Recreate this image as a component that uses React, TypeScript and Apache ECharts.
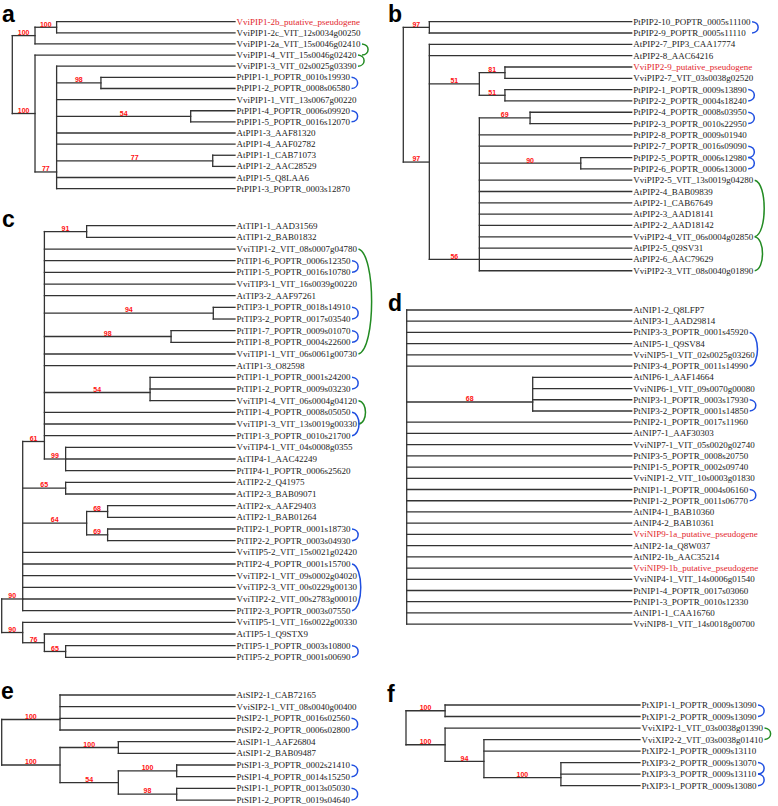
import React, { useEffect, useRef } from 'react';
import * as echarts from 'echarts';

type Tree = { d: number; b?: string; y?: number; k: (Tree | string)[] };

// ---------------- DATA ----------------
// d = node depth (root 0 .. tips 100), b = bootstrap, y = row where the node attaches (if not centred)
const treeA: Tree = { d: 0, k: [
  { d: 10.2, b: '100', k: [
    { d: 19.9, b: '100', k: ['VviPIP1-2b_putative_pseudogene', 'VviPIP1-2c_VIT_12s0034g00250'] },
    'VviPIP1-2a_VIT_15s0046g02410'] },
  { d: 10.2, b: '100', k: [
    'VviPIP1-4_VIT_15s0046g02420',
    { d: 19.9, b: '77', y: 13.5, k: [
      'VviPIP1-3_VIT_02s0025g03390',
      { d: 39.8, b: '98', k: ['PtPIP1-1_POPTR_0010s19930', 'PtPIP1-2_POPTR_0008s06580'] },
      'VviPIP1-1_VIT_13s0067g00220',
      { d: 80.1, b: '54', k: ['PtPIP1-4_POPTR_0006s09920', 'PtPIP1-5_POPTR_0016s12070'] },
      'AtPIP1-3_AAF81320', 'AtPIP1-4_AAF02782',
      { d: 90.0, b: '77', k: ['AtPIP1-1_CAB71073', 'AtPIP1-2_AAC28529'] },
      'AtPIP1-5_Q8LAA6', 'PtPIP1-3_POPTR_0003s12870'] }] }] };

const treeB: Tree = { d: 0, k: [
  { d: 11.4, b: '97', k: ['PtPIP2-10_POPTR_0005s11100', 'PtPIP2-9_POPTR_0005s11110'] },
  { d: 11.4, b: '97', y: 12.4, k: [
    'AtPIP2-7_PIP3_CAA17774', 'AtPIP2-8_AAC64216',
    { d: 33.3, b: '51', k: [
      { d: 44.5, b: '81', k: ['VviPIP2-9_putative_pseudogene', 'VviPIP2-7_VIT_03s0038g02520'] },
      { d: 44.5, b: '51', k: ['PtPIP2-1_POPTR_0009s13890', 'PtPIP2-2_POPTR_0004s18240'] }] },
    { d: 33.3, b: '56', y: 21, k: [
      { d: 55.5, b: '69', k: ['PtPIP2-4_POPTR_0008s03950', 'PtPIP2-3_POPTR_0010s22950'] },
      'PtPIP2-8_POPTR_0009s01940', 'PtPIP2-7_POPTR_0016s09090',
      { d: 77.7, b: '90', k: ['PtPIP2-5_POPTR_0006s12980', 'PtPIP2-6_POPTR_0006s13000'] },
      'VviPIP2-5_VIT_13s0019g04280', 'AtPIP2-4_BAB09839', 'AtPIP2-1_CAB67649', 'AtPIP2-3_AAD18141',
      'AtPIP2-2_AAD18142', 'VviPIP2-4_VIT_06s0004g02850', 'AtPIP2-5_Q9SV31', 'AtPIP2-6_AAC79629',
      'VviPIP2-3_VIT_08s0040g01890'] }] }] };

const treeC: Tree = { d: 0, k: [
  { d: 9.0, b: '90', y: 32, k: [
    { d: 18.3, b: '61', y: 18.5, k: [
      { d: 36.4, b: '91', k: ['AtTIP1-1_AAD31569', 'AtTIP1-2_BAB01832'] },
      'VviTIP1-2_VIT_08s0007g04780', 'PtTIP1-6_POPTR_0006s12350', 'PtTIP1-5_POPTR_0016s10780',
      'VviTIP3-1_VIT_16s0039g00220', 'AtTIP3-2_AAF97261',
      { d: 90.7, b: '94', k: ['PtTIP3-1_POPTR_0018s14910', 'PtTIP3-2_POPTR_0017s03540'] },
      { d: 72.6, b: '98', k: ['PtTIP1-7_POPTR_0009s01070', 'PtTIP1-8_POPTR_0004s22600'] },
      'VviTIP1-1_VIT_06s0061g00730', 'AtTIP1-3_O82598',
      { d: 63.6, b: '54', y: 14.3, k: ['PtTIP1-1_POPTR_0001s24200', 'PtTIP1-2_POPTR_0009s03230', 'VviTIP1-4_VIT_06s0004g04120'] },
      'PtTIP1-4_POPTR_0008s05050', 'VviTIP1-3_VIT_13s0019g00330', 'PtTIP1-3_POPTR_0010s21700',
      { d: 27.4, b: '99', k: ['VviTIP4-1_VIT_04s0008g0355', 'AtTIP4-1_AAC42249', 'PtTIP4-1_POPTR_0006s25620'] }] },
    { d: 27.4, b: '65', k: ['AtTIP2-2_Q41975', 'AtTIP2-3_BAB09071'] },
    { d: 36.4, b: '64', k: [
      { d: 45.4, b: '68', k: ['AtTIP2-x_AAF29403', 'AtTIP2-1_BAB01264'] },
      { d: 45.4, b: '69', k: ['PtTIP2-1_POPTR_0001s18730', 'PtTIP2-2_POPTR_0003s04930'] }] },
    'VviTIP5-2_VIT_15s0021g02420', 'PtTIP2-4_POPTR_0001s15700', 'VviTIP2-1_VIT_09s0002g04020',
    'VviTIP2-3_VIT_00s0229g00130', 'VviTIP2-2_VIT_00s2783g00010', 'PtTIP2-3_POPTR_0003s07550'] },
  { d: 9.0, b: '90', k: [
    'VviTIP5-1_VIT_16s0022g00330',
    { d: 18.3, b: '76', k: ['AtTIP5-1_Q9STX9',
      { d: 27.4, b: '65', k: ['PtTIP5-1_POPTR_0003s10800', 'PtTIP5-2_POPTR_0001s00690'] }] }] }] };

const treeD: Tree = { d: 0, k: [
  'AtNIP1-2_Q8LFP7', 'AtNIP3-1_AAD29814', 'PtNIP3-3_POPTR_0001s45920', 'AtNIP5-1_Q9SV84',
  'VviNIP5-1_VIT_02s0025g03260', 'PtNIP3-4_POPTR_0011s14990',
  { d: 56.0, b: '68', y: 8.2, k: ['AtNIP6-1_AAF14664', 'VviNIP6-1_VIT_09s0070g00080', 'PtNIP3-1_POPTR_0003s17930', 'PtNIP3-2_POPTR_0001s14850'] },
  'PtNIP2-1_POPTR_0017s11960', 'AtNIP7-1_AAF30303', 'VviNIP7-1_VIT_05s0020g02740', 'PtNIP3-5_POPTR_0008s20750',
  'PtNIP1-5_POPTR_0002s09740', 'VviNIP1-2_VIT_10s0003g01830', 'PtNIP1-1_POPTR_0004s06160', 'PtNIP1-2_POPTR_0011s06770',
  'AtNIP4-1_BAB10360', 'AtNIP4-2_BAB10361', 'VviNIP9-1a_putative_pseudogene', 'AtNIP2-1a_Q8W037',
  'AtNIP2-1b_AAC35214', 'VviNIP9-1b_putative_pseudogene', 'VviNIP4-1_VIT_14s0006g01540', 'PtNIP1-4_POPTR_0017s03060',
  'PtNIP1-3_POPTR_0010s12330', 'AtNIP1-1_CAA16760', 'VviNIP8-1_VIT_14s0018g00700'] };

const treeE: Tree = { d: 0, k: [
  { d: 25, b: '100', y: 2.1, k: ['AtSIP2-1_CAB72165', 'VviSIP2-1_VIT_08s0040g00400', 'PtSIP2-1_POPTR_0016s02560', 'PtSIP2-2_POPTR_0006s02800'] },
  { d: 25, b: '100', k: [
    { d: 50, b: '100', k: ['AtSIP1-1_AAF26804', 'AtSIP1-2_BAB09487'] },
    { d: 50, b: '54', k: [
      { d: 75, b: '100', k: ['PtSIP1-3_POPTR_0002s21410', 'PtSIP1-4_POPTR_0014s15250'] },
      { d: 75, b: '98', k: ['PtSIP1-1_POPTR_0013s05030', 'PtSIP1-2_POPTR_0019s04640'] }] }] }] };

const treeF: Tree = { d: 0, k: [
  { d: 16.7, b: '100', k: ['PtXIP1-1_POPTR_0009s13090', 'PtXIP1-2_POPTR_0009s13090'] },
  { d: 16.7, b: '100', k: [
    'VviXIP2-1_VIT_03s0038g01390',
    { d: 33.3, b: '94', y: 4.9, k: ['VviXIP2-2_VIT_03s0038g01410', 'PtXIP2-1_POPTR_0009s13110',
      { d: 66.2, b: '100', y: 6.3, k: ['PtXIP3-2_POPTR_0009s13070', 'PtXIP3-3_POPTR_0009s13110', 'PtXIP3-1_POPTR_0009s13080'] }] }] }] };

// paralogue pairs: [first row, last row, species]
const bracketsA: [number, number, string][] = [[5, 6, 'Pt'], [8, 9, 'Pt'], [2, 3, 'Vvi'], [3, 4, 'Vvi']];
const bracketsB: [number, number, string][] = [[0, 1, 'Pt'], [6, 7, 'Pt'], [8, 9, 'Pt'], [11, 12, 'Pt'], [12, 13, 'Pt'], [14, 19, 'Vvi'], [19, 22, 'Vvi']];
const bracketsC: [number, number, string][] = [[2, 11, 'Vvi'], [3, 4, 'Pt'], [7, 8, 'Pt'], [9, 10, 'Pt'], [13, 14, 'Pt'], [15, 17, 'Vvi'], [16, 18, 'Pt'], [26, 27, 'Pt'], [29, 33, 'Pt'], [36, 37, 'Pt']];
const bracketsD: [number, number, string][] = [[2, 5, 'Pt'], [8, 9, 'Pt'], [16, 17, 'Pt']];
const bracketsE: [number, number, string][] = [[2, 3, 'Pt'], [6, 7, 'Pt'], [8, 9, 'Pt']];
const bracketsF: [number, number, string][] = [[0, 1, 'Pt'], [2, 3, 'Vvi'], [5, 6, 'Pt'], [6, 7, 'Pt']];

const panelLetters = ['a', 'b', 'c', 'd', 'e', 'f'];

// ---------------- LAYOUT / STYLE ----------------
const PANELS = [
  { tree: treeA, br: bracketsA, left: 12.3, tip: 235, top: 21.7, dy: 11.13, lx: 2, ly: 20 },
  { tree: treeB, br: bracketsB, left: 403.3, tip: 631.7, top: 21.7, dy: 11.32, lx: 388, ly: 20 },
  { tree: treeC, br: bracketsC, left: 1.7, tip: 235, top: 225.7, dy: 11.665, lx: 2, ly: 225 },
  { tree: treeD, br: bracketsD, left: 406.7, tip: 631.7, top: 310, dy: 11.22, lx: 388, ly: 309 },
  { tree: treeE, br: bracketsE, left: 1.7, tip: 235, top: 695, dy: 11.67, lx: 1, ly: 697 },
  { tree: treeF, br: bracketsF, left: 406, tip: 640, top: 705, dy: 11.52, lx: 387, ly: 700 },
];

const LINE = '#333333';
const RED = '#ff1010';
const NAME_RED = '#e3262c';
const SERIF = '"Liberation Serif", "Times New Roman", serif';
const SANS = '"Liberation Sans", Arial, sans-serif';
const SP_COLOR: Record<string, string> = { Pt: '#1f4fe0', Vvi: '#228b22' };

type Item = { kind: string; x1: number; y1: number; x2: number; y2: number; text?: string; color?: string; r1?: number; r2?: number };

function layoutTree(tree: Tree) {
  const leaves: string[] = [];
  const items: Item[] = [];
  let row = 0;
  const walk = (node: Tree | string, parentD: number | null): number => {
    if (typeof node === 'string') {
      const r = row++;
      leaves.push(node);
      items.push({ kind: 'seg', x1: parentD as number, y1: r, x2: 100, y2: r });
      items.push({ kind: 'leaf', x1: 100, y1: r, x2: 100, y2: r, text: node });
      return r;
    }
    const ys = node.k.map((c) => walk(c, node.d));
    const y = node.y ?? (ys[0] + ys[ys.length - 1]) / 2;
    const lo = Math.min(...ys, y);
    const hi = Math.max(...ys, y);
    items.push({ kind: 'seg', x1: node.d, y1: lo, x2: node.d, y2: hi });
    if (parentD !== null) {
      items.push({ kind: 'seg', x1: parentD, y1: y, x2: node.d, y2: y });
      if (node.b) items.push({ kind: 'boot', x1: (parentD + node.d) / 2, y1: y, x2: (parentD + node.d) / 2, y2: y, text: node.b });
    }
    return y;
  };
  walk(tree, null);
  return { leaves, items };
}

let measureCtx: CanvasRenderingContext2D | null = null;
function textWidth(t: string): number {
  if (!measureCtx) measureCtx = document.createElement('canvas').getContext('2d');
  if (!measureCtx) return t.length * 4.5;
  measureCtx.font = '9px ' + SERIF;
  return measureCtx.measureText(t).width;
}

function buildOption() {
  const grid: any[] = [];
  const xAxis: any[] = [];
  const yAxis: any[] = [];
  const series: any[] = [];
  const graphicEls: any[] = [];

  PANELS.forEach((p, i) => {
    const { leaves, items } = layoutTree(p.tree);
    const n = leaves.length;
    p.br.forEach(([r1, r2, sp]) => items.push({ kind: 'br', x1: 100, y1: r1, x2: 100, y2: r2, r1, r2, color: SP_COLOR[sp] }));
    grid.push({ left: p.left, top: p.top, width: p.tip - p.left, height: (n - 1) * p.dy, containLabel: false });
    xAxis.push({ gridIndex: i, type: 'value', min: 0, max: 100, show: false });
    yAxis.push({ gridIndex: i, type: 'value', min: 0, max: n - 1, inverse: true, show: false });
    series.push({
      type: 'custom',
      coordinateSystem: 'cartesian2d',
      xAxisIndex: i,
      yAxisIndex: i,
      clip: false,
      silent: true,
      data: items.map((it) => [it.x1, it.y1, it.x2, it.y2]),
      encode: { x: [0, 2], y: [1, 3] },
      renderItem: (params: any, api: any) => {
        const it = items[params.dataIndex];
        if (it.kind === 'seg') {
          const a = api.coord([it.x1, it.y1]);
          const b = api.coord([it.x2, it.y2]);
          return { type: 'line', shape: { x1: a[0], y1: a[1], x2: b[0], y2: b[1] }, style: { stroke: LINE, lineWidth: 1.3, lineCap: 'square' } };
        }
        if (it.kind === 'leaf') {
          const a = api.coord([it.x1, it.y1]);
          const red = (it.text as string).indexOf('pseudogene') >= 0;
          return {
            type: 'text', x: a[0] + 1.5, y: a[1],
            style: { text: it.text, fill: red ? NAME_RED : '#1a1a1a', fontSize: 9, fontFamily: SERIF, textAlign: 'left', textVerticalAlign: 'middle' },
          };
        }
        if (it.kind === 'boot') {
          const a = api.coord([it.x1, it.y1]);
          return {
            type: 'text', x: a[0], y: a[1] + 0.3,
            style: { text: it.text, fill: RED, fontSize: 7, fontWeight: 'bold', fontFamily: SANS, textAlign: 'center', textVerticalAlign: 'bottom' },
          };
        }
        // bracket
        const a = api.coord([100, it.r1 as number]);
        const b = api.coord([100, it.r2 as number]);
        const w = Math.max(textWidth(leaves[it.r1 as number]), textWidth(leaves[it.r2 as number]));
        const x0 = a[0] + 1.5 + w + 1.5;
        const h = b[1] - a[1];
        const c = 7 + 0.1 * h;
        return {
          type: 'bezierCurve',
          shape: { x1: x0, y1: a[1], x2: x0, y2: b[1], cpx1: x0 + c, cpy1: a[1] + h * 0.05, cpx2: x0 + c, cpy2: b[1] - h * 0.05 },
          style: { stroke: it.color, lineWidth: 1.5, fill: 'none' },
        };
      },
    });
    graphicEls.push({
      type: 'text', x: p.lx, y: p.ly - 6.5,
      style: { text: panelLetters[i], fill: '#000', fontSize: 23, fontWeight: 'bold', fontFamily: SANS, textAlign: 'left', textVerticalAlign: 'middle' },
    });
  });

  return {
    animation: false,
    backgroundColor: '#ffffff',
    grid, xAxis, yAxis, series,
    graphic: { elements: graphicEls },
  };
}

export default function App() {
  const ref = useRef<HTMLDivElement>(null);
  useEffect(() => {
    if (!ref.current) return;
    const chart = echarts.init(ref.current, undefined, { renderer: 'svg', width: 778, height: 806 });
    chart.setOption(buildOption() as any);
    return () => chart.dispose();
  }, []);
  return <div ref={ref} style={{ position: 'fixed', left: 0, top: 0, width: 778, height: 806, background: '#fff' }} />;
}
